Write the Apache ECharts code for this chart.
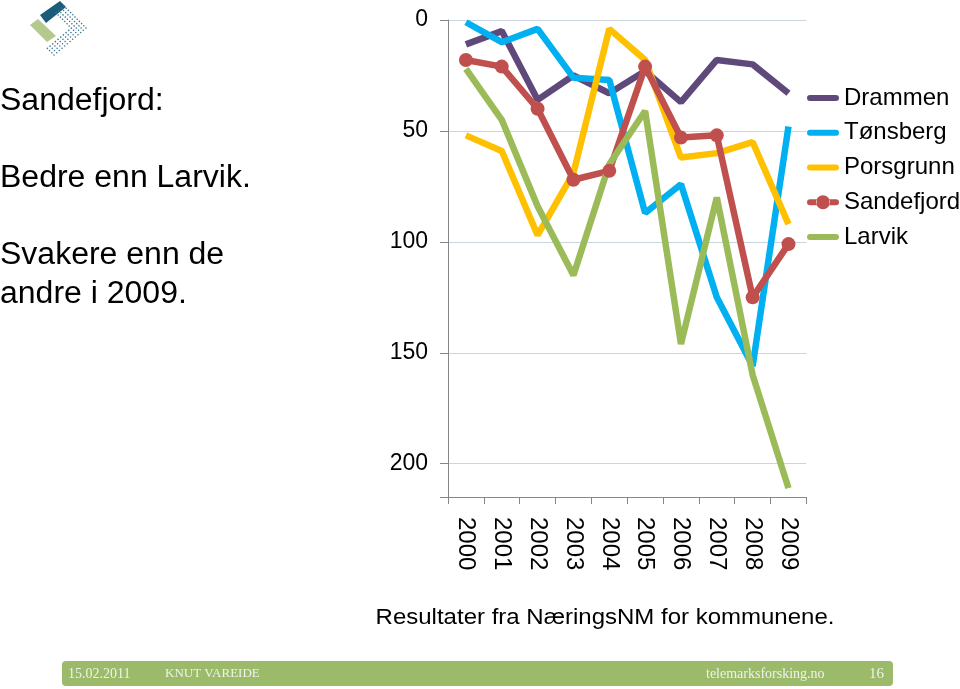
<!DOCTYPE html>
<html>
<head>
<meta charset="utf-8">
<script src="https://cdn.jsdelivr.net/npm/echarts@6/dist/echarts.min.js"></script>
<style>html,body{margin:0;padding:0;background:#fff;}#c{width:960px;height:689px;}</style>
</head>
<body>
<div id="c"></div>
<script>
var years = ['2000','2001','2002','2003','2004','2005','2006','2007','2008','2009'];
var drammen    = [11, 5, 36, 25, 33, 23, 37, 18, 20, 33];
var tonsberg   = [1, 10, 4, 26, 27, 87, 74, 125, 156, 48];
var porsgrunn  = [52, 59, 97, 69, 4, 18, 62, 60, 55, 92];
var sandefjord = [18, 21, 40, 72, 68, 21, 53, 52, 125, 101];
var larvik     = [22, 45, 84, 115, 65, 41, 146, 80, 160, 211];
var yTicks = [0, 50, 100, 150, 200];

var chart = echarts.init(document.getElementById('c'));
var FONT = '"Liberation Sans", Arial, sans-serif';
var SERIF = '"Liberation Serif", "DejaVu Serif", serif';

// logo dots (decoration)
var dots = [];
var R = [86, 28], T = [64, 6], Bc = [54, 55];
for (var i = 0; i <= 10; i++) {
  for (var j = 0; j <= 12; j++) {
    var a = i / 10, b = j / 12;
    if (!(a < 0.36 || b < 0.3)) continue;
    var px = R[0] + a * (T[0] - R[0]) + b * (Bc[0] - R[0]);
    var py = R[1] + a * (T[1] - R[1]) + b * (Bc[1] - R[1]);
    dots.push({type:'circle', shape:{cx:px, cy:py, r:0.8}, style:{fill:'#3C7690'}, silent:true});
  }
}

var graphics = [
  {type:'polygon', shape:{points:[[40,15],[60,1],[66,7],[46,23]]}, style:{fill:'#1B5C7A'}, silent:true},
  {type:'polygon', shape:{points:[[30,25],[38,19],[56,36],[47,42]]}, style:{fill:'#B4C98C'}, silent:true},
  {type:'text', left:0, top:86, scaleY:0.957, style:{text:'Sandefjord:', font:'32px ' + FONT, fill:'#000'}},
  {type:'text', left:0, top:163, scaleY:0.957, style:{text:'Bedre enn Larvik.', font:'32px ' + FONT, fill:'#000'}},
  {type:'text', left:0, top:240, scaleY:0.957, style:{text:'Svakere enn de', font:'32px ' + FONT, fill:'#000'}},
  {type:'text', left:0, top:279, scaleY:0.957, style:{text:'andre i 2009.', font:'32px ' + FONT, fill:'#000'}},
  {type:'text', x:605, y:618, scaleY:0.957, style:{text:'Resultater fra NæringsNM for kommunene.', font:'24px ' + FONT, fill:'#000', align:'center', verticalAlign:'middle'}},
  {type:'rect', shape:{x:62, y:661, width:831, height:25, r:4}, style:{fill:'#9BBB6B'}, silent:true},
  {type:'text', x:68, y:674, style:{text:'15.02.2011', font:'14px ' + SERIF, fill:'#EEF3E6', verticalAlign:'middle'}},
  {type:'text', x:165, y:674, style:{text:'KNUT VAREIDE', font:'13px ' + SERIF, fill:'#EEF3E6', verticalAlign:'middle'}},
  {type:'text', x:706, y:674, style:{text:'telemarksforsking.no', font:'14px ' + SERIF, fill:'#EEF3E6', verticalAlign:'middle'}},
  {type:'text', x:869, y:674, style:{text:'16', font:'15px ' + SERIF, fill:'#EEF3E6', verticalAlign:'middle'}}
].concat(dots);

// legend icons: thick line (bbox padded to 32x14), and thick line with a dot
var lineIcon = 'path://M0,0L0.01,0L0.01,0.01Z M0,14L0.01,14L0.01,13.99Z M3,4L29,4A3,3 0 0,1 29,10L3,10A3,3 0 0,1 3,4Z';
var dotIcon = 'path://M0,0L0.01,0L0.01,0.01Z M3,4L9.6,4L9.6,10L3,10A3,3 0 0,1 3,4Z M22.4,4L29,4A3,3 0 0,1 29,10L22.4,10Z M9,7A7,7 0 1,0 23,7A7,7 0 1,0 9,7Z';

function lineSeries(name, data, color, withSymbol) {
  return {
    name: name, type: 'line', data: data,
    symbol: withSymbol ? 'circle' : 'none',
    symbolSize: 14,
    showSymbol: withSymbol,
    lineStyle: {color: color, width: 6.5},
    itemStyle: {color: color},
    emphasis: {disabled: true},
    animation: false
  };
}

chart.setOption({
  animation: false,
  textStyle: {fontFamily: FONT},
  grid: {left: 448, right: 153.6, top: 20, bottom: 192, containLabel: false},
  legend: {
    orient: 'vertical', left: 802, top: 81, itemGap: 10.75,
    itemWidth: 32, itemHeight: 14,
    textStyle: {fontSize: 24, color: '#000', fontFamily: FONT, lineHeight: 23},
    data: [
      {name: 'Drammen', icon: lineIcon},
      {name: 'Tønsberg', icon: lineIcon},
      {name: 'Porsgrunn', icon: lineIcon},
      {name: 'Sandefjord', icon: dotIcon},
      {name: 'Larvik', icon: lineIcon}
    ],
    selectedMode: false
  },
  xAxis: {
    type: 'category', data: years, boundaryGap: true,
    axisLine: {onZero: false, lineStyle: {color: '#868686', width: 1}},
    axisTick: {show: true, length: 7, lineStyle: {color: '#868686'}},
    axisLabel: {rotate: -90, fontSize: 24, color: '#000', margin: 20, fontFamily: FONT},
    splitLine: {show: false}
  },
  yAxis: {
    type: 'value', inverse: true, min: 0, max: 215, interval: 50,
    axisLine: {show: true, lineStyle: {color: '#868686', width: 1}},
    axisTick: {show: true, length: 8, lineStyle: {color: '#868686'}},
    axisLabel: {fontSize: 23, color: '#000', margin: 20, fontFamily: FONT,
      formatter: function (v) { return yTicks.indexOf(v) >= 0 ? String(v) : ''; }},
    splitLine: {show: true, lineStyle: {color: '#C9D5E1', width: 1}}
  },
  series: [
    lineSeries('Drammen', drammen, '#5F497A', false),
    lineSeries('Tønsberg', tonsberg, '#00B0F0', false),
    lineSeries('Porsgrunn', porsgrunn, '#FFC000', false),
    lineSeries('Sandefjord', sandefjord, '#C0504D', true),
    lineSeries('Larvik', larvik, '#9BBB59', false)
  ],
  graphic: graphics
});
</script>
</body>
</html>
